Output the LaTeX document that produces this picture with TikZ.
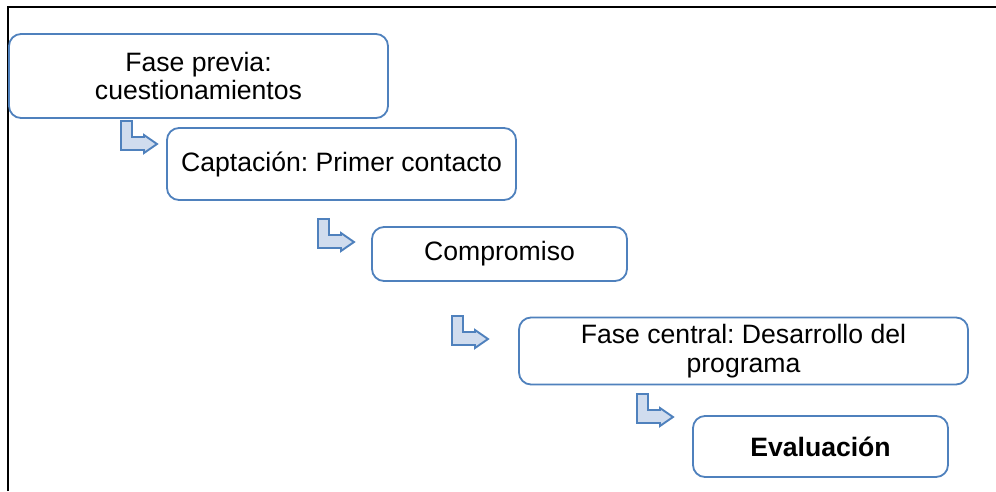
\documentclass[tikz,border=0pt]{standalone}
\usepackage{fontspec}
\setmainfont{Liberation Sans}
\frenchspacing
\definecolor{boxblue}{HTML}{4F81BD}
\definecolor{arrowfill}{HTML}{D0DCEE}
\begin{document}
\begin{tikzpicture}[x=1pt,y=-1pt,
  stage/.style={draw=boxblue, line width=1.8pt, rounded corners=12pt, fill=white,
    inner sep=0pt, align=center, font=\fontsize{26.6}{28.5}\selectfont},
  bentarrow/.style={draw=boxblue, line width=1.9pt, fill=arrowfill, line join=miter}]
\useasboundingbox (0,0) rectangle (996,491);
\fill[white] (0,0) rectangle (996,491);
\draw[line width=2pt] (8,491) -- (8,7) -- (996,7);
% bent arrows (drawn first, boxes cover their tops)
\foreach \ax/\ay in {121/121, 318/219, 452/316, 637/394}{
  \draw[bentarrow] (\ax,\ay) -- ++(11,0) -- ++(0,16) -- ++(12,0) -- ++(0,-2)
    -- ++(13,9) -- ++(-13,9) -- ++(0,-3) -- ++(-23,0) -- cycle;
}
\node[stage, minimum width=379pt, minimum height=84pt] (b1) at (198.5,76) {Fase previa:\\cuestionamientos};
\node[stage, minimum width=349pt, minimum height=72pt] (b2) at (341.5,164) {Captación: Primer contacto};
\node[stage, minimum width=255pt, minimum height=54pt] (b3) at (499.5,254) {Compromiso};
\node[stage, minimum width=449pt, minimum height=67pt] (b4) at (743.5,351) {Fase central: Desarrollo del\\programa};
\node[stage, minimum width=255pt, minimum height=61pt, font=\fontsize{26.6}{28.5}\selectfont\bfseries] (b5) at (820.5,446.5) {Evaluación};
\end{tikzpicture}
\end{document}
